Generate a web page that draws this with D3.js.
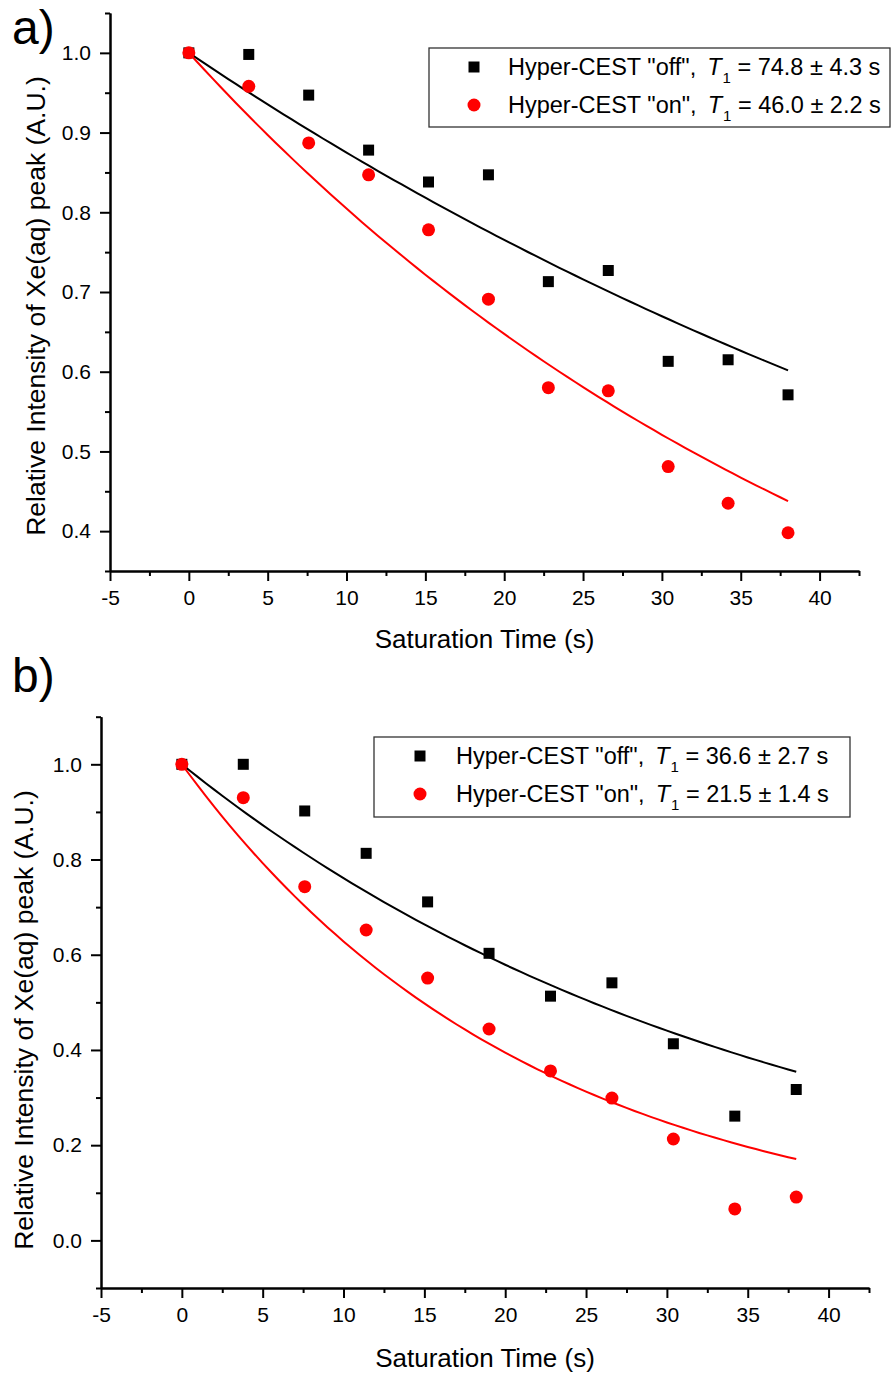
<!DOCTYPE html>
<html>
<head>
<meta charset="utf-8">
<script src="https://cdn.jsdelivr.net/npm/d3@7"></script>
<style>
  body { margin: 0; background: #fff; }
  svg text { font-family: "Liberation Sans", Arial, sans-serif; fill: #000; }
</style>
</head>
<body>
<svg id="chart" width="893" height="1376"></svg>
<script>
// Saturation times (s), shared by both experiments
const times = [0, 3.8, 7.6, 11.4, 15.2, 19.0, 22.8, 26.6, 30.4, 34.2, 38.0];

// Panel a: relative Xe(aq) intensity
const offA = [1.0, 0.998, 0.947, 0.878, 0.838, 0.847, 0.713, 0.727, 0.613, 0.615, 0.571];
const onA  = [1.0, 0.958, 0.887, 0.847, 0.778, 0.691, 0.580, 0.576, 0.481, 0.435, 0.398];

// Panel b: relative Xe(aq) intensity
const offB = [1.0, 1.0, 0.902, 0.813, 0.711, 0.603, 0.513, 0.541, 0.413, 0.261, 0.317];
const onB  = [1.0, 0.930, 0.743, 0.652, 0.551, 0.444, 0.356, 0.299, 0.213, 0.066, 0.091];

// Fitted T1 values (s) and their errors: [off, on]
const t1A  = [74.8, 46.0];
const errA = [4.3, 2.2];
const t1B  = [36.6, 21.5];
const errB = [2.7, 1.4];

// Axis ticks
const xTicks      = [-5, 0, 5, 10, 15, 20, 25, 30, 35, 40];
const xMinorTicks = [-2.5, 2.5, 7.5, 12.5, 17.5, 22.5, 27.5, 32.5, 37.5, 42.5];
const yTicksA      = [0.4, 0.5, 0.6, 0.7, 0.8, 0.9, 1.0];
const yMinorTicksA = [0.35, 0.45, 0.55, 0.65, 0.75, 0.85, 0.95, 1.05];
const yTicksB      = [0.0, 0.2, 0.4, 0.6, 0.8, 1.0];
const yMinorTicksB = [-0.1, 0.1, 0.3, 0.5, 0.7, 0.9, 1.1];

const seriesNames = ['Hyper-CEST "off",', 'Hyper-CEST "on",'];
const xTitle = "Saturation Time (s)";
const yTitle = "Relative Intensity of Xe(aq) peak (A.U.)";

const svg = d3.select("#chart");

function drawPanel(p) {
  const x = d3.scaleLinear().domain([-5, 42.5]).range([p.left, p.right]);
  const y = d3.scaleLinear().domain(p.yDomain).range([p.bottom, p.top]);
  const g = svg.append("g");

  // axes: major ticks with labels, then minor ticks
  g.append("g").attr("transform", `translate(0,${p.bottom})`)
    .call(d3.axisBottom(x).tickValues(xTicks).tickFormat(d => String(d))
      .tickSize(10).tickSizeOuter(0).tickPadding(9));
  g.append("g").attr("transform", `translate(0,${p.bottom})`)
    .call(d3.axisBottom(x).tickValues(xMinorTicks).tickFormat("")
      .tickSize(5).tickSizeOuter(0));
  g.append("g").attr("transform", `translate(${p.left},0)`)
    .call(d3.axisLeft(y).tickValues(p.yTicks).tickFormat(d3.format(".1f"))
      .tickSize(10).tickSizeOuter(0).tickPadding(9));
  g.append("g").attr("transform", `translate(${p.left},0)`)
    .call(d3.axisLeft(y).tickValues(p.yMinor).tickFormat("")
      .tickSize(5).tickSizeOuter(0));

  g.selectAll(".domain").attr("stroke", "#000").attr("stroke-width", 2);
  g.selectAll(".tick line").attr("stroke", "#000").attr("stroke-width", 2);
  g.selectAll(".tick text").attr("font-size", 21)
    .attr("font-family", "Liberation Sans, Arial, sans-serif").attr("fill", "#000");

  // axis titles
  g.append("text").attr("x", (p.left + p.right) / 2).attr("y", p.xTitleY)
    .attr("text-anchor", "middle").attr("font-size", 26).text(xTitle);
  g.append("text")
    .attr("transform", `translate(${p.yTitleX},${p.yTitleY}) rotate(-90)`)
    .attr("text-anchor", "middle").attr("font-size", 26.5).text(yTitle);

  // panel letter
  g.append("text").attr("x", 12).attr("y", p.letterY).attr("font-size", 48).text(p.letter);

  const symbols = [
    d3.symbol().type(d3.symbolSquare).size(121),
    d3.symbol().type(d3.symbolCircle).size(Math.PI * 6.5 * 6.5)
  ];
  const colors = ["#000000", "#ff0000"];

  // fitted mono-exponential decay, S(t) = exp(-t / T1), over the measured range
  const fitT = d3.range(0, 38.0001, 0.5);

  p.series.forEach((vals, k) => {
    g.append("g").selectAll("path").data(times).join("path")
      .attr("d", symbols[k])
      .attr("transform", (t, i) => `translate(${x(t)},${y(vals[i])})`)
      .attr("fill", colors[k]);
    const T1 = p.t1[k];
    g.append("path")
      .datum(fitT)
      .attr("d", d3.line().x(t => x(t)).y(t => y(Math.exp(-t / T1))))
      .attr("fill", "none").attr("stroke", colors[k]).attr("stroke-width", 2);
  });

  // legend
  const lg = g.append("g");
  lg.append("rect").attr("x", p.legend.x).attr("y", p.legend.y)
    .attr("width", p.legend.w).attr("height", p.legend.h)
    .attr("fill", "#fff").attr("stroke", "#333").attr("stroke-width", 1.3);
  p.series.forEach((vals, k) => {
    const cy = p.legend.y + 19 + k * 38;
    lg.append("path").attr("d", symbols[k])
      .attr("transform", `translate(${p.legend.x + p.legend.mx},${cy})`)
      .attr("fill", colors[k]);
    const txt = lg.append("text").attr("x", p.legend.x + p.legend.tx).attr("y", cy + 8)
      .attr("font-size", 23.5);
    txt.append("tspan").text(seriesNames[k]);
    txt.append("tspan").attr("font-style", "italic").attr("dx", 11).text("T");
    txt.append("tspan").attr("font-size", 15).attr("dy", 8).attr("dx", 1).text("1");
    txt.append("tspan").attr("dy", -8).text(` = ${p.t1[k].toFixed(1)} \u00B1 ${p.err[k].toFixed(1)} s`);
  });
}

drawPanel({
  letter: "a)", letterY: 44,
  left: 110, right: 859, top: 13, bottom: 571,
  yDomain: [0.35, 1.05], yTicks: yTicksA, yMinor: yMinorTicksA,
  series: [offA, onA], t1: t1A, err: errA,
  xTitleY: 648, yTitleX: 45, yTitleY: 306,
  legend: { x: 429, y: 48, w: 461, h: 79, mx: 45, tx: 79 }
});

drawPanel({
  letter: "b)", letterY: 692,
  left: 101, right: 869, top: 716.7, bottom: 1288,
  yDomain: [-0.1, 1.1], yTicks: yTicksB, yMinor: yMinorTicksB,
  series: [offB, onB], t1: t1B, err: errB,
  xTitleY: 1367, yTitleX: 33, yTitleY: 1020,
  legend: { x: 374, y: 737, w: 476, h: 80, mx: 46, tx: 82 }
});
</script>
</body>
</html>
